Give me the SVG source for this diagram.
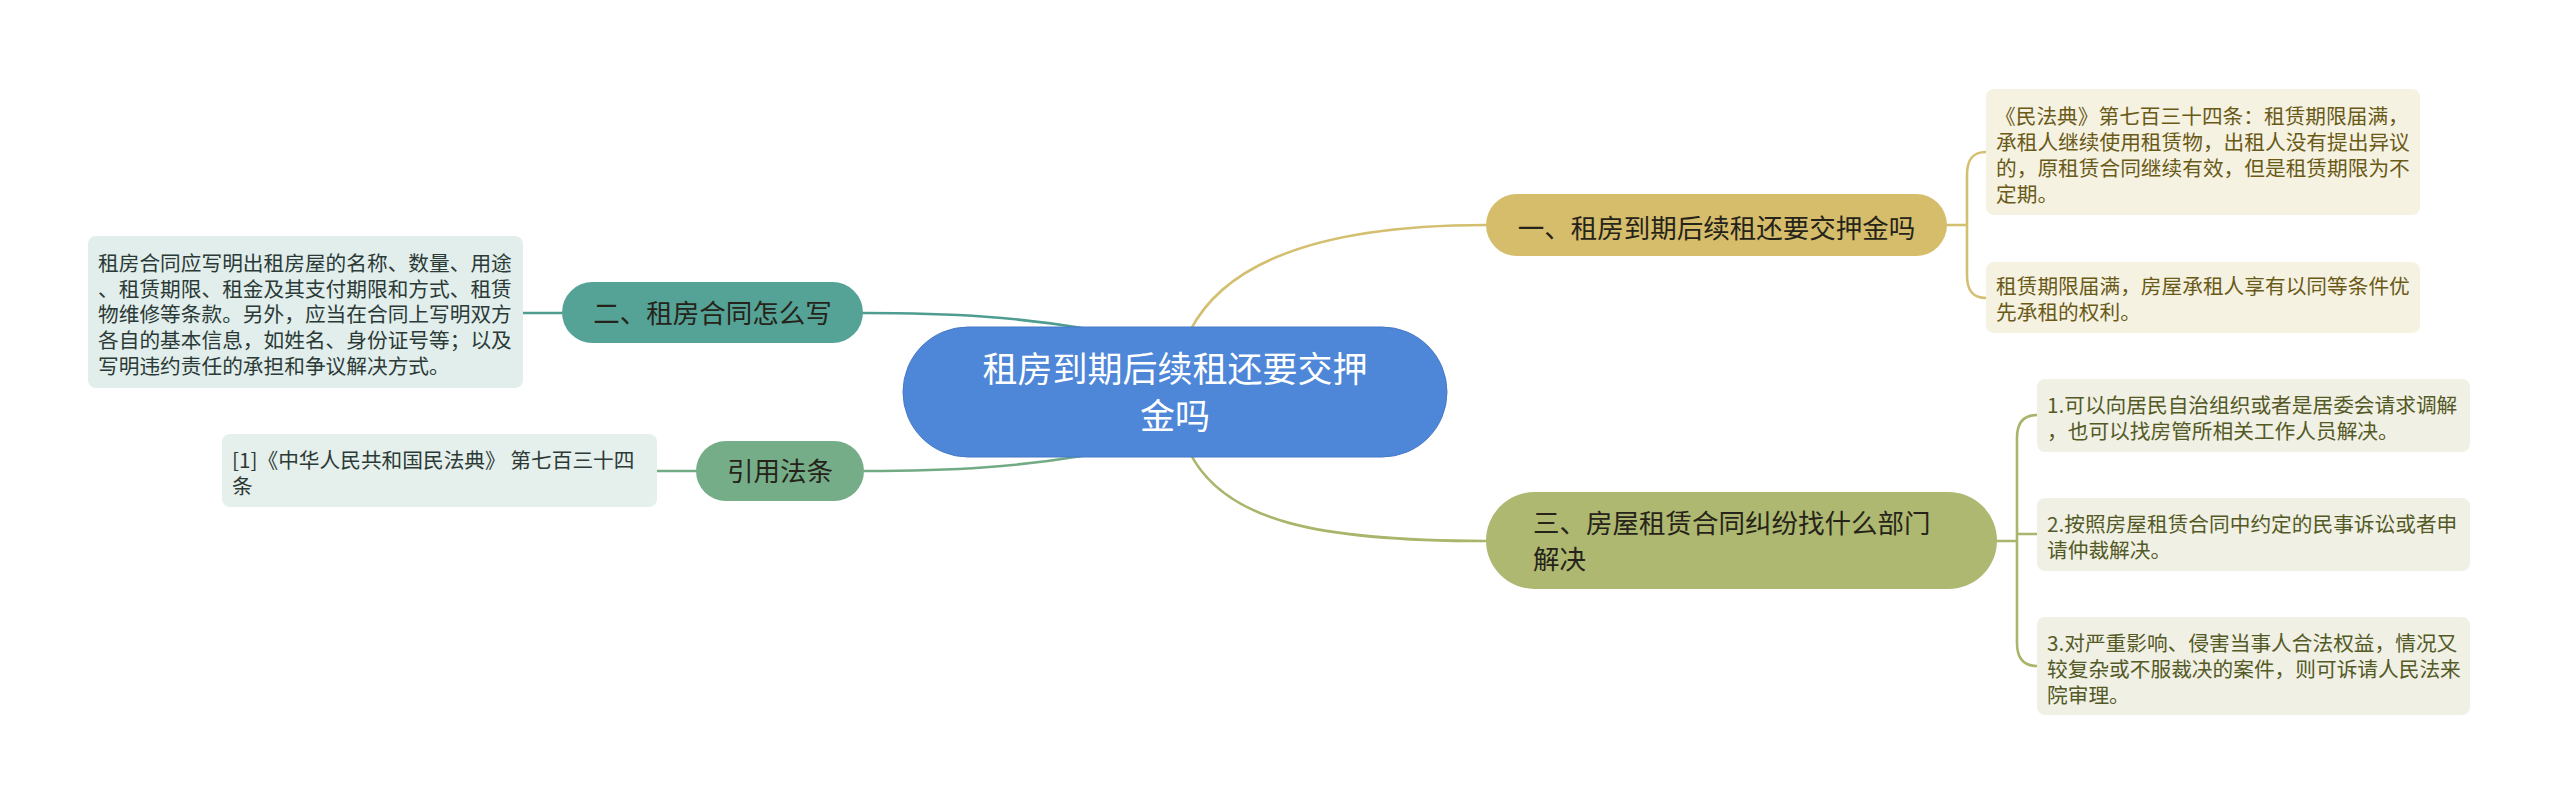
<svg xmlns="http://www.w3.org/2000/svg" width="2560" height="805" viewBox="0 0 2560 805">
<style>
text{font-family:"Noto Sans CJK SC","Noto Sans",sans-serif;}
.c{fill:none;stroke-width:2.6;stroke-linecap:round;}
.gold{stroke:#d3bf6f;}
.olive{stroke:#aab56b;}
.teal{stroke:#4f9c90;}
.green{stroke:#72aa84;}
.t1{font-size:26.5px;fill:#26241a;}
.sm{font-size:20.7px;}
</style>
<rect width="2560" height="805" fill="#ffffff"/>
<g id="connectors">
<path class="c gold" d="M1190,331 C1225,262 1320,225 1486,225"/>
<path class="c olive" d="M1190,453 C1225,522 1320,541 1486,541"/>
<path class="c teal" d="M863,313 C960,313 1020,318 1082,328"/>
<path class="c green" d="M864,471 C960,471 1020,466 1082,456"/>
<path class="c gold" d="M1947,225 L1967,225 M1986,152 C1972,152 1967,160 1967,175 L1967,275 C1967,290 1972,298 1986,298"/>
<path class="c olive" d="M1997,541 L2017,541 M2017,534 L2037,534 M2037,415 C2023,415 2017,423 2017,438 L2017,643 C2017,658 2023,666 2037,666"/>
<path class="c teal" d="M523,313 L562,313"/>
<path class="c green" d="M657,471 L696,471"/>
</g>
<g id="center">
<rect x="903" y="327" width="544" height="130" rx="65" fill="#4e86d8" stroke="#4479c8" stroke-width="1"/>
<text x="1175" y="382" font-size="35" fill="#ffffff" text-anchor="middle">租房到期后续租还要交押</text>
<text x="1175" y="429" font-size="35" fill="#ffffff" text-anchor="middle">金吗</text>
</g>
<g id="node1">
<rect x="1486" y="194" width="461" height="62" rx="31" fill="#d5bd6b"/>
<text class="t1" x="1716.5" y="238" text-anchor="middle">一、租房到期后续租还要交押金吗</text>
</g>
<g id="node1a">
<rect x="1986" y="89" width="434" height="126" rx="8" fill="#f6f2e2"/>
<text class="sm" fill="#6a5a18"><tspan x="1995" y="124">《民法典》第七百三十四条：租赁期限届满，</tspan><tspan x="1996" y="150">承租人继续使用租赁物，出租人没有提出异议</tspan><tspan x="1996" y="176">的，原租赁合同继续有效，但是租赁期限为不</tspan><tspan x="1996" y="202">定期。</tspan></text>
</g>
<g id="node1b">
<rect x="1986" y="262" width="434" height="71" rx="8" fill="#f6f2e2"/>
<text class="sm" fill="#6a5a18"><tspan x="1996" y="294">租赁期限届满，房屋承租人享有以同等条件优</tspan><tspan x="1996" y="320">先承租的权利。</tspan></text>
</g>
<g id="node3">
<rect x="1486" y="492" width="511" height="97" rx="48.5" fill="#aeb870"/>
<text class="t1" x="1533" y="533">三、房屋租赁合同纠纷找什么部门</text>
<text class="t1" x="1533" y="569">解决</text>
</g>
<g id="node3a">
<rect x="2037" y="379" width="433" height="73" rx="8" fill="#f0f0e4"/>
<text class="sm" fill="#545a26"><tspan x="2047" y="413">1.可以向居民自治组织或者是居委会请求调解</tspan><tspan x="2047" y="439">，也可以找房管所相关工作人员解决。</tspan></text>
</g>
<g id="node3b">
<rect x="2037" y="498" width="433" height="73" rx="8" fill="#f0f0e4"/>
<text class="sm" fill="#545a26"><tspan x="2047" y="532">2.按照房屋租赁合同中约定的民事诉讼或者申</tspan><tspan x="2047" y="558">请仲裁解决。</tspan></text>
</g>
<g id="node3c">
<rect x="2037" y="617" width="433" height="98" rx="8" fill="#f0f0e4"/>
<text class="sm" fill="#545a26"><tspan x="2047" y="651">3.对严重影响、侵害当事人合法权益，情况又</tspan><tspan x="2047" y="677">较复杂或不服裁决的案件，则可诉请人民法来</tspan><tspan x="2047" y="703">院审理。</tspan></text>
</g>
<g id="node2">
<rect x="562" y="282" width="301" height="61" rx="30.5" fill="#55a397"/>
<text class="t1" x="712.5" y="323" text-anchor="middle">二、租房合同怎么写</text>
</g>
<g id="node2a">
<rect x="88" y="236" width="435" height="152" rx="8" fill="#e1eeec"/>
<text class="sm" fill="#2c3a37"><tspan x="98" y="271">租房合同应写明出租房屋的名称、数量、用途</tspan><tspan x="98" y="297">、租赁期限、租金及其支付期限和方式、租赁</tspan><tspan x="98" y="322">物维修等条款。另外，应当在合同上写明双方</tspan><tspan x="98" y="348">各自的基本信息，如姓名、身份证号等；以及</tspan><tspan x="98" y="374">写明违约责任的承担和争议解决方式。</tspan></text>
</g>
<g id="node4">
<rect x="696" y="441" width="168" height="60" rx="30" fill="#76ad89"/>
<text class="t1" x="780" y="481" text-anchor="middle">引用法条</text>
</g>
<g id="node4a">
<rect x="222" y="434" width="435" height="73" rx="8" fill="#e5efeb"/>
<text class="sm" fill="#2c3a37"><tspan x="232" y="468">[1]《中华人民共和国民法典》 第七百三十四</tspan><tspan x="232" y="494">条</tspan></text>
</g>
</svg>
